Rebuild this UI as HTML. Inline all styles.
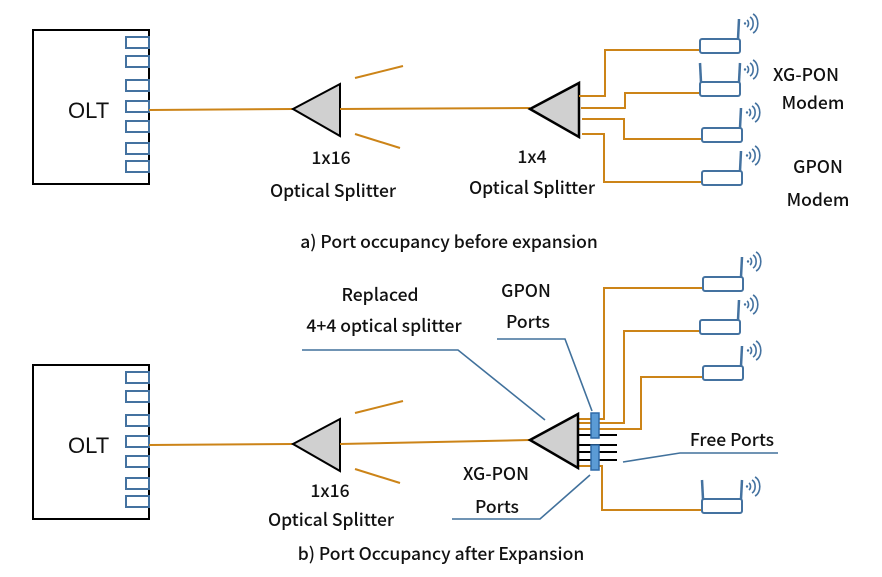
<!DOCTYPE html>
<html><head><style>
body{margin:0;background:#fff}
svg{display:block}
text{font-family:"Noto Sans CJK SC","Liberation Sans",sans-serif;fill:#111;font-weight:500}
</style></head><body>
<svg width="882" height="577" viewBox="0 0 882 577" xmlns="http://www.w3.org/2000/svg">
<defs>
<g id="ma">
<rect x="0" y="-11" width="40" height="14" rx="2" fill="#fff" stroke="#4472a0" stroke-width="2"/>
<line x1="38" y1="-11" x2="39" y2="-31" stroke="#4472a0" stroke-width="2.5"/>
<g fill="none" stroke="#4472a0" stroke-width="1.6">
<path d="M47,-30 a3,4 0 0 1 0,7"/><path d="M50,-33 a5,7 0 0 1 0,13"/><path d="M53,-36 a7,10 0 0 1 0,19"/>
</g>
<circle cx="45" cy="-26.5" r="1.2" fill="#4472a0"/>
</g>
<g id="mb">
<rect x="0" y="-11" width="40" height="14" rx="2" fill="#fff" stroke="#4472a0" stroke-width="2"/>
<line x1="1" y1="-11" x2="0" y2="-30" stroke="#4472a0" stroke-width="2.5"/>
<line x1="39" y1="-11" x2="40" y2="-30" stroke="#4472a0" stroke-width="2.5"/>
<g fill="none" stroke="#4472a0" stroke-width="1.6">
<path d="M47,-27 a3,4 0 0 1 0,7"/><path d="M50,-30 a5,7 0 0 1 0,13"/><path d="M53,-33 a7,10 0 0 1 0,19"/>
</g>
<circle cx="45" cy="-23.5" r="1.2" fill="#4472a0"/>
</g>
<g id="olt">
<rect x="33" y="30" width="116" height="154" fill="#fff" stroke="#000" stroke-width="2"/>
<g fill="#fff" stroke="#4472a0" stroke-width="2">
<rect x="126" y="37" width="23" height="11"/><rect x="126" y="56" width="23" height="11"/>
<rect x="126" y="80" width="23" height="11"/><rect x="126" y="101" width="23" height="11"/>
<rect x="126" y="121" width="23" height="11"/><rect x="126" y="143" width="23" height="11"/>
<rect x="126" y="161" width="23" height="11"/>
</g>
<text x="68" y="118" font-size="22" style="font-family:'Liberation Sans',sans-serif;font-weight:normal">OLT</text>
<line x1="149" y1="110" x2="293" y2="109" stroke="#cc8418" stroke-width="2"/>
<polygon points="293,109 340,84 340,136" fill="#d0d0d0" stroke="#000" stroke-width="2"/>
<line x1="355" y1="78" x2="403" y2="66" stroke="#cc8418" stroke-width="2"/>
<line x1="355" y1="134" x2="400" y2="148" stroke="#cc8418" stroke-width="2"/>
</g>
</defs>

<use href="#olt"/>
<line x1="340" y1="109" x2="530" y2="108" stroke="#cc8418" stroke-width="2"/>
<polygon points="530,109 579,83 579,137" fill="#d0d0d0" stroke="#000" stroke-width="2.5"/>
<g fill="none" stroke="#cc8418" stroke-width="2">
<polyline points="579,96 605,96 605,50 700,50"/>
<polyline points="581,108 625,108 625,93 700,93"/>
<polyline points="582,119 624,119 624,139 702,139"/>
<polyline points="582,134 604,134 604,182 702,182"/>
</g>
<use href="#ma" x="700" y="50"/>
<use href="#mb" x="700" y="93"/>
<use href="#ma" x="702" y="139"/>
<use href="#ma" x="702" y="182"/>
<g font-size="17.5" text-anchor="middle">
<text x="331" y="164">1x16</text>
<text x="333" y="197">Optical Splitter</text>
<text x="532" y="163">1x4</text>
<text x="532" y="194">Optical Splitter</text>
<text x="806" y="81">XG-PON</text>
<text x="813" y="109">Modem</text>
<text x="818" y="173">GPON</text>
<text x="818" y="206">Modem</text>
<text x="449" y="248">a) Port occupancy before expansion</text>
</g>

<use href="#olt" y="335"/>
<line x1="340" y1="444" x2="530" y2="440" stroke="#cc8418" stroke-width="2"/>
<g fill="none" stroke="#cc8418" stroke-width="2">
<polyline points="578,419 604,419 604,288 703,288"/>
<polyline points="578,423 624,423 624,331 700,331"/>
<polyline points="578,429 641,429 641,377 703,377"/>
<polyline points="578,466 602,466 602,510 702,510"/>
</g>
<g stroke="#000" stroke-width="2">
<line x1="578" y1="435" x2="617" y2="435"/><line x1="578" y1="445" x2="617" y2="445"/>
<line x1="578" y1="452" x2="617" y2="452"/><line x1="578" y1="460" x2="617" y2="460"/>
</g>
<polygon points="530,440 578,414 578,468" fill="#d0d0d0" stroke="#000" stroke-width="2.5"/>
<rect x="591" y="413" width="8" height="25" fill="#5b9bd5" stroke="#2e6aa8" stroke-width="1.5"/>
<rect x="591" y="445" width="8" height="25" fill="#5b9bd5" stroke="#2e6aa8" stroke-width="1.5"/>
<use href="#ma" x="703" y="288"/>
<use href="#ma" x="700" y="331"/>
<use href="#ma" x="703" y="377"/>
<use href="#mb" x="702" y="510"/>
<g fill="none" stroke="#41719c" stroke-width="1.6">
<polyline points="302,350 458,350 545,420"/>
<polyline points="497,339 565,339 592,411"/>
<polyline points="452,519 540,519 590,475"/>
<polyline points="623,462 680,453 778,453"/>
</g>
<g font-size="17.5" text-anchor="middle">
<text x="380" y="301">Replaced</text>
<text x="384" y="332">4+4 optical splitter</text>
<text x="526" y="297">GPON</text>
<text x="528" y="328">Ports</text>
<text x="496" y="480">XG-PON</text>
<text x="497" y="513">Ports</text>
<text x="732" y="446">Free Ports</text>
<text x="330" y="497">1x16</text>
<text x="331" y="526">Optical Splitter</text>
<text x="441" y="560">b) Port Occupancy after Expansion</text>
</g>
</svg>
</body></html>
